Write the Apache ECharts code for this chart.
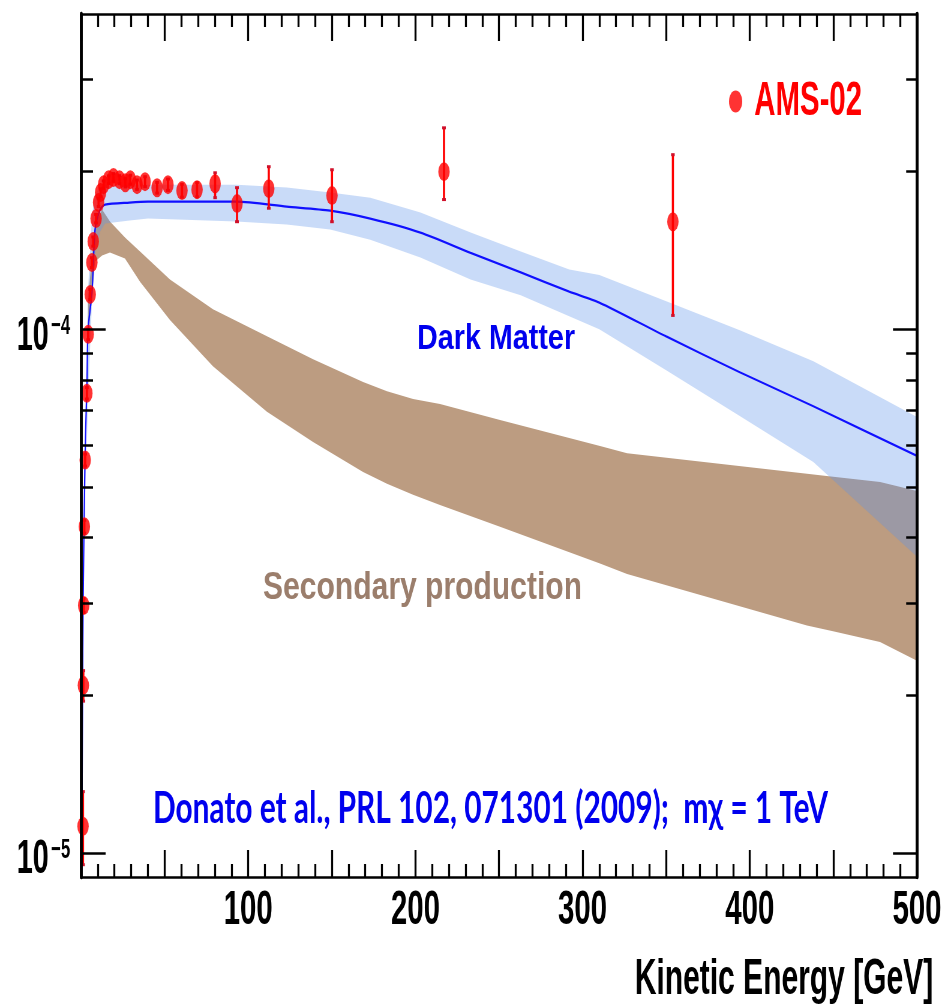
<!DOCTYPE html>
<html>
<head>
<meta charset="utf-8">
<script src="https://cdn.jsdelivr.net/npm/echarts@6.0.0/dist/echarts.min.js"></script>
<style>
  html, body { margin: 0; padding: 0; width: 945px; height: 1005px; overflow: hidden; background: #fff; }
  /* the plot is laid out wide and squeezed horizontally, giving the condensed look of the figure */
  #chart { width: 1575px; height: 1005px; transform: scaleX(0.6); transform-origin: 0 0; }
</style>
</head>
<body>
<div id="chart"></div>
<script>
// ---- axes ----
const energyRange = [0, 500];
const energyLabels = [100, 200, 300, 400, 500];
const ratioRange = [9e-6, 4e-4];
const ratioMajor = [1e-5, 1e-4];
const ratioMinor = [2e-5, 3e-5, 4e-5, 5e-5, 6e-5, 7e-5, 8e-5, 9e-5, 2e-4, 3e-4];

// ---- AMS-02 antiproton / proton ratio ----
const amsE = [1.2, 1.4, 1.6, 2.0, 2.5, 3.5, 4.3, 5.5, 6.5, 7.3, 9.0, 10.5, 11.7, 13.5, 16.5, 19.4,
  23.0, 26.5, 29.5, 33.5, 38.3, 45.5, 52.0, 60.4, 69.4, 80.2, 93.3, 112.3, 150.1, 217.1, 354.0];
const amsRatio = [1.125e-5, 2.09e-5, 2.97e-5, 4.20e-5, 5.63e-5, 7.55e-5, 9.78e-5, 1.166e-4, 1.341e-4,
  1.471e-4, 1.627e-4, 1.746e-4, 1.824e-4, 1.889e-4, 1.931e-4, 1.950e-4, 1.931e-4, 1.905e-4, 1.931e-4,
  1.889e-4, 1.914e-4, 1.864e-4, 1.889e-4, 1.840e-4, 1.848e-4, 1.897e-4, 1.738e-4, 1.856e-4, 1.800e-4,
  2.000e-4, 1.605e-4];
const amsLow = [0.95e-5, 1.95e-5, 2.88e-5, 4.08e-5, 5.48e-5, 7.36e-5, 9.55e-5, 1.140e-4, 1.312e-4,
  1.441e-4, 1.597e-4, 1.716e-4, 1.794e-4, 1.858e-4, 1.899e-4, 1.917e-4, 1.897e-4, 1.870e-4, 1.893e-4,
  1.850e-4, 1.872e-4, 1.820e-4, 1.842e-4, 1.788e-4, 1.790e-4, 1.784e-4, 1.605e-4, 1.703e-4, 1.605e-4,
  1.769e-4, 1.063e-4];
const amsHigh = [1.31e-5, 2.23e-5, 3.06e-5, 4.32e-5, 5.78e-5, 7.74e-5, 1.001e-4, 1.192e-4, 1.370e-4,
  1.501e-4, 1.657e-4, 1.776e-4, 1.854e-4, 1.920e-4, 1.963e-4, 1.983e-4, 1.965e-4, 1.940e-4, 1.969e-4,
  1.928e-4, 1.956e-4, 1.908e-4, 1.936e-4, 1.892e-4, 1.906e-4, 1.990e-4, 1.864e-4, 2.044e-4, 2.017e-4,
  2.425e-4, 2.155e-4];

// ---- dark matter prediction (m_chi = 1 TeV) ----
const dmE = [0.3, 0.6, 0.9, 1.2, 2.4, 3.6, 4.2, 6.6, 8.4, 11.4, 14.4, 29, 40, 93, 123, 149, 173, 203,
  233, 263, 292, 310, 350, 394, 438, 500];
const dmRatio = [9.0e-6, 1.27e-5, 1.97e-5, 2.93e-5, 5.65e-5, 8.04e-5, 1.0e-4, 1.176e-4, 1.551e-4,
  1.693e-4, 1.73e-4, 1.746e-4, 1.753e-4, 1.753e-4, 1.715e-4, 1.685e-4, 1.627e-4, 1.53e-4, 1.40e-4,
  1.285e-4, 1.18e-4, 1.125e-4, 9.69e-5, 8.28e-5, 7.13e-5, 5.73e-5];
const dmBandE = [3.6, 4.2, 6.6, 8.4, 11.4, 14.4, 29, 40, 93, 123, 149, 173, 203, 233, 263, 292, 310,
  350, 394, 438, 500];
const dmBandLow = [6.2e-5, 7.36e-5, 1.14e-4, 1.39e-4, 1.536e-4, 1.593e-4, 1.613e-4, 1.627e-4, 1.606e-4,
  1.585e-4, 1.551e-4, 1.483e-4, 1.371e-4, 1.245e-4, 1.161e-4, 1.059e-4, 1.0e-4, 8.35e-5, 6.83e-5,
  5.58e-5, 3.68e-5];
const dmBandHigh = [9.5e-5, 1.19e-4, 1.655e-4, 1.81e-4, 1.865e-4, 1.888e-4, 1.888e-4, 1.888e-4,
  1.888e-4, 1.865e-4, 1.824e-4, 1.784e-4, 1.671e-4, 1.53e-4, 1.408e-4, 1.301e-4, 1.27e-4, 1.131e-4,
  9.96e-5, 8.69e-5, 6.80e-5];

// ---- secondary production ----
const secE = [4.2, 8.4, 12.6, 17.3, 26.3, 35.3, 53.2, 78.9, 111.2, 138.8, 168.7, 183, 198.6, 214.7,
  250.6, 310.4, 326.6, 434.2, 449.8, 477.9, 500];
const secHigh = [1.141e-4, 1.585e-4, 1.693e-4, 1.606e-4, 1.497e-4, 1.408e-4, 1.245e-4, 1.092e-4,
  9.70e-5, 8.77e-5, 7.93e-5, 7.62e-5, 7.36e-5, 7.20e-5, 6.71e-5, 5.99e-5, 5.80e-5, 5.30e-5, 5.23e-5,
  5.11e-5, 4.91e-5];
const secLow = [9.57e-5, 1.347e-4, 1.383e-4, 1.402e-4, 1.365e-4, 1.232e-4, 1.042e-4, 8.50e-5, 6.96e-5,
  6.09e-5, 5.34e-5, 5.07e-5, 4.83e-5, 4.62e-5, 4.20e-5, 3.57e-5, 3.41e-5, 2.72e-5, 2.65e-5, 2.53e-5,
  2.33e-5];

// ---- styling ----
const SQUEEZE = 0.6;
const RED = '#ff0000';
const BLUE = '#0000ee';
const BOLD = '"Liberation Sans", Arial, sans-serif';

// horizontal stretch that brings a text to a given on-screen width
function stretchFor(text, font, screenWidth) {
  const ctx = document.createElement('canvas').getContext('2d');
  ctx.font = font;
  return screenWidth / SQUEEZE / ctx.measureText(text).width;
}

function pairs(xs, ys) { return xs.map((x, i) => [x, ys[i]]); }

// a filled band between a lower and an upper curve, drawn as one polygon
function bandSeries(name, xs, lo, hi, fill, z) {
  return {
    type: 'custom', name: name, z: z, silent: true,
    data: xs.map((x, i) => [x, lo[i], hi[i]]),
    encode: { x: 0, y: [1, 2] },
    renderItem: function (params, api) {
      if (params.dataIndexInside !== 0) return null;
      const n = params.dataInsideLength;
      const lower = [], upper = [];
      for (let j = 0; j < n; j++) {
        lower.push(api.coord([api.value(0, j), api.value(1, j)]));
        upper.push(api.coord([api.value(0, j), api.value(2, j)]));
      }
      return { type: 'polygon', shape: { points: lower.concat(upper.reverse()) }, style: { fill: fill } };
    }
  };
}

function energyAxis(position, withLabels) {
  return {
    type: 'value', position: position, min: energyRange[0], max: energyRange[1], interval: 50, z: 10,
    axisLine: { show: true, onZero: false, lineStyle: { color: '#000', width: 2.7 } },
    axisTick: { show: true, inside: true, length: 27, lineStyle: { color: '#000', width: 3.3 } },
    minorTick: { show: true, splitNumber: 5, length: 13, lineStyle: { color: '#000', width: 3.3 } },
    splitLine: { show: false }, minorSplitLine: { show: false },
    axisLabel: withLabels ? {
      show: true, customValues: energyLabels, margin: 9,
      fontFamily: BOLD, fontWeight: 'bold', fontSize: 49, color: '#000'
    } : { show: false },
    name: withLabels ? 'Kinetic Energy [GeV]' : '',
    nameLocation: 'end', nameGap: 27,
    nameTextStyle: { fontFamily: BOLD, fontWeight: 'bold', fontSize: 50, color: '#000',
      align: 'right', verticalAlign: 'top', padding: [78, 0, 0, 0] }
  };
}

function ratioAxis(position, ticks, tickLen, withLabels) {
  return {
    type: 'log', logBase: 10, position: position, min: ratioRange[0], max: ratioRange[1], z: 10,
    axisLine: { show: true, onZero: false, lineStyle: { color: '#000', width: 4.5 } },
    axisTick: { show: true, inside: true, length: tickLen, customValues: ticks,
      lineStyle: { color: '#000', width: 2.5 } },
    minorTick: { show: false }, splitLine: { show: false },
    axisLabel: withLabels ? {
      show: true, customValues: ticks, margin: 18, padding: [14, 0, 0, 0],
      formatter: v => '{b|10}{s|\u2212' + (-Math.round(Math.log10(v))) + '}',
      rich: {
        b: { fontFamily: BOLD, fontWeight: 'bold', fontSize: 48, lineHeight: 48, color: '#000' },
        s: { fontFamily: BOLD, fontWeight: 'bold', fontSize: 28, lineHeight: 16, verticalAlign: 'top',
          color: '#000', padding: [0, 0, 0, 4] }
      }
    } : { show: false }
  };
}

const annoDark = 'bold 35px ' + BOLD;
const annoSec = 'bold 38px ' + BOLD;
const annoRef = 'bold 43px Lato, "Open Sans", sans-serif';
const refText = 'Donato et al., PRL 102, 071301 (2009);  m\u03c7 = 1 TeV';

const chart = echarts.init(document.getElementById('chart'), null, { renderer: 'canvas' });
chart.setOption({
  animation: false,
  backgroundColor: '#fff',
  grid: { left: 135, right: 46.7, top: 14, bottom: 126, containLabel: false },
  xAxis: [energyAxis('bottom', true), energyAxis('top', false)],
  yAxis: [
    ratioAxis('left', ratioMajor, 41, true),
    ratioAxis('left', ratioMinor, 20, false),
    ratioAxis('right', ratioMajor, 40, false),
    ratioAxis('right', ratioMinor, 18, false)
  ],
  legend: {
    data: [{ name: 'AMS-02', icon: 'path://M0,50A50,50 0 1,1 100,50A50,50 0 1,1 0,50Z' }],
    left: 1215, top: 77, padding: 0, itemWidth: 22, itemHeight: 25,
    textStyle: { color: RED, fontFamily: BOLD, fontWeight: 'bold', fontSize: 49, padding: [0, 0, 0, 15] },
    selectedMode: false
  },
  graphic: [
    { type: 'text', x: 417 / SQUEEZE, y: 339, scaleX: stretchFor('Dark Matter', annoDark, 158), z: 20,
      style: { text: 'Dark Matter', font: annoDark, fill: BLUE, align: 'left', verticalAlign: 'middle' } },
    { type: 'text', x: 263 / SQUEEZE, y: 589, scaleX: stretchFor('Secondary production', annoSec, 319), z: 20,
      style: { text: 'Secondary production', font: annoSec, fill: 'rgb(155,126,108)', align: 'left', verticalAlign: 'middle' } },
    { type: 'text', x: 153 / SQUEEZE, y: 809, scaleX: stretchFor(refText, annoRef, 675), z: 20,
      style: { text: refText, font: annoRef, fill: BLUE, align: 'left', verticalAlign: 'middle' } }
  ],
  series: [
    bandSeries('Secondary production', secE, secLow, secHigh, 'rgb(188,156,129)', 1),
    bandSeries('Dark Matter band', dmBandE, dmBandLow, dmBandHigh, 'rgba(94,148,234,0.335)', 2),
    { type: 'line', name: 'Dark Matter', data: pairs(dmE, dmRatio), symbol: 'none', smooth: 0.25,
      lineStyle: { color: '#1010ff', width: 2.3 }, z: 3 },
    { type: 'custom', name: 'AMS-02 errors', z: 4, silent: true,
      data: amsE.map((e, i) => [e, amsRatio[i], amsLow[i], amsHigh[i]]),
      encode: { x: 0, y: 1 },
      renderItem: function (params, api) {
        const e = api.value(0);
        const top = api.coord([e, api.value(3)]);
        const bot = api.coord([e, api.value(2)]);
        const st = { stroke: RED, lineWidth: 3.6 };
        return { type: 'group', children: [
          { type: 'line', shape: { x1: top[0], y1: top[1], x2: bot[0], y2: bot[1] }, style: st },
          { type: 'line', shape: { x1: top[0] - 3, y1: top[1], x2: top[0] + 3, y2: top[1] }, style: { stroke: '#d0102a', lineWidth: 3 } },
          { type: 'line', shape: { x1: bot[0] - 3, y1: bot[1], x2: bot[0] + 3, y2: bot[1] }, style: { stroke: '#d0102a', lineWidth: 3 } }
        ] };
      }
    },
    { type: 'scatter', name: 'AMS-02', data: pairs(amsE, amsRatio), symbol: 'circle', symbolSize: 19,
      itemStyle: { color: RED }, z: 5 }
  ]
});
</script>
</body>
</html>
